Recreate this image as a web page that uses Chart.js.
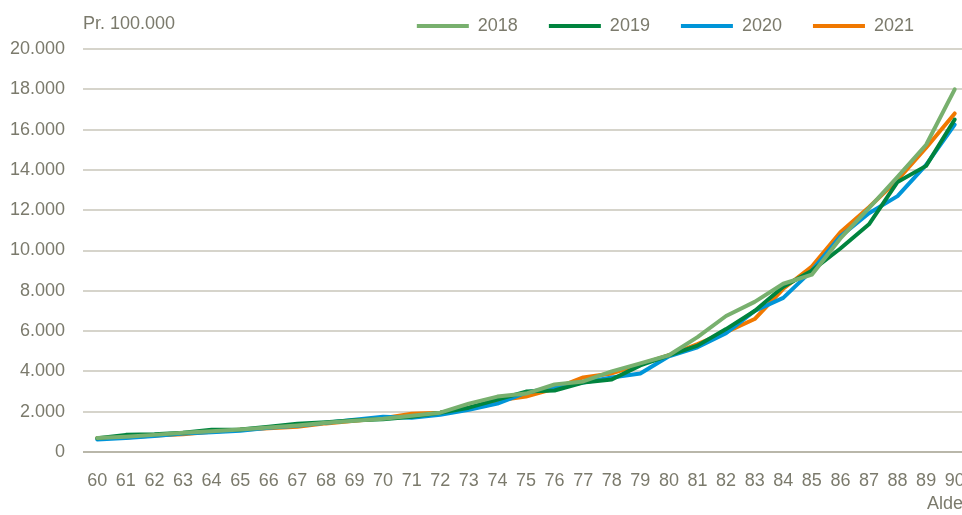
<!DOCTYPE html>
<html>
<head>
<meta charset="utf-8">
<script src="https://cdn.jsdelivr.net/npm/chart.js@4.4.0/dist/chart.umd.min.js"></script>
<style>
  html, body { margin: 0; padding: 0; background: #fff; overflow: hidden; }
  #wrap { width: 990px; height: 515px; }
</style>
</head>
<body>
<div id="wrap"><canvas id="myChart" width="990" height="515"></canvas></div>
<script>
// ages on x axis
var ages = ["60","61","62","63","64","65","66","67","68","69","70","71","72","73","74","75","76","77","78","79","80","81","82","83","84","85","86","87","88","89","90"];

// per 100.000
var y2018 = [700, 760, 850, 950, 1030, 1120, 1220, 1320, 1450, 1550, 1650, 1800, 1950, 2400, 2750, 2900, 3350, 3500, 4000, 4400, 4800, 5700, 6750, 7450, 8350, 8800, 10600, 12100, 13650, 15250, 18000];
var y2019 = [680, 850, 880, 950, 1100, 1120, 1250, 1400, 1480, 1580, 1620, 1750, 1950, 2200, 2600, 3000, 3050, 3450, 3600, 4300, 4800, 5280, 6100, 7000, 8200, 9000, 10100, 11300, 13400, 14200, 16500];
var y2020 = [620, 700, 800, 920, 980, 1050, 1200, 1300, 1450, 1600, 1750, 1700, 1850, 2100, 2400, 2950, 3200, 3450, 3700, 3900, 4750, 5200, 5900, 7000, 7650, 9000, 10700, 11850, 12700, 14250, 16250];
var y2021 = [680, 720, 820, 880, 1000, 1100, 1180, 1250, 1420, 1550, 1680, 1900, 1950, 2200, 2550, 2750, 3150, 3700, 3900, 4350, 4800, 5350, 5950, 6600, 8100, 9200, 10900, 12150, 13500, 15100, 16800];

var yTicks = [0, 2000, 4000, 6000, 8000, 10000, 12000, 14000, 16000, 18000, 20000];

var textColor = "#7b7a6c";
var fontFam = "'Liberation Sans Narrow', 'Arial Narrow', 'Liberation Sans', Arial, sans-serif";

function fmt(v) {
  return String(v).replace(/\B(?=(\d{3})+(?!\d))/g, ".");
}

// unit label top left + nudge legend into place
var unitLabel = {
  id: "unitLabel",
  afterLayout: function (chart) {
    var lg = chart.legend;
    lg.top -= 4;
    lg.bottom -= 4;
    lg.left -= 24;
    lg.right -= 24;
  },
  afterDraw: function (chart) {
    var c = chart.ctx;
    c.save();
    c.font = "18px " + fontFam;
    c.fillStyle = textColor;
    c.textBaseline = "middle";
    c.textAlign = "left";
    c.fillText("Pr. 100.000", 83, 24);
    c.restore();
  },
};

function ds(label, data, color) {
  return {
    label: label,
    data: data,
    borderColor: color,
    backgroundColor: color,
    borderWidth: 4,
    borderCapStyle: "round",
    borderJoinStyle: "round",
    pointStyle: "line",
  };
}

var ctx = document.getElementById("myChart").getContext("2d");
var chart = new Chart(ctx, {
  type: "line",
  data: {
    labels: ages,
    datasets: [
      ds("2018", y2018, "#78b06e"),
      ds("2019", y2019, "#00843e"),
      ds("2020", y2020, "#0095d8"),
      ds("2021", y2021, "#f07800"),
    ],
  },
  plugins: [unitLabel],
  options: {
    responsive: false,
    animation: false,
    devicePixelRatio: 1,
    elements: {
      line: { tension: 0 },
      point: { radius: 0 },
    },
    layout: { padding: { left: 0, right: 21, top: -10, bottom: 0 } },
    plugins: {
      tooltip: { enabled: false },
      legend: {
        position: "top",
        align: "end",
        labels: {
          usePointStyle: true,
          pointStyleWidth: 52,
          padding: 31,
          color: textColor,
          font: { size: 18, family: fontFam },
        },
      },
    },
    scales: {
      x: {
        offset: true,
        afterFit: function (scale) {
          scale.height = 63;
        },
        grid: { display: false, drawTicks: false },
        border: { display: false },
        ticks: {
          color: textColor,
          padding: 18,
          autoSkip: false,
          maxRotation: 0,
          font: { size: 18, family: fontFam },
        },
        title: {
          display: true,
          text: "Alder",
          align: "end",
          color: textColor,
          padding: { top: 2, bottom: 0 },
          font: { size: 18, family: fontFam },
        },
      },
      y: {
        min: 0,
        max: 20000,
        afterFit: function (scale) {
          scale.width = 83;
        },
        afterBuildTicks: function (scale) {
          scale.ticks = yTicks.map(function (v) { return { value: v }; });
        },
        grid: {
          drawTicks: false,
          lineWidth: 2,
          color: function (c) {
            return c.tick && c.tick.value === 0 ? "#b9b7aa" : "#d6d4cb";
          },
        },
        border: { display: false },
        ticks: {
          color: textColor,
          padding: 18,
          font: { size: 18, family: fontFam },
          callback: function (v) {
            return fmt(v);
          },
        },
      },
    },
  },
});
</script>
</body>
</html>
